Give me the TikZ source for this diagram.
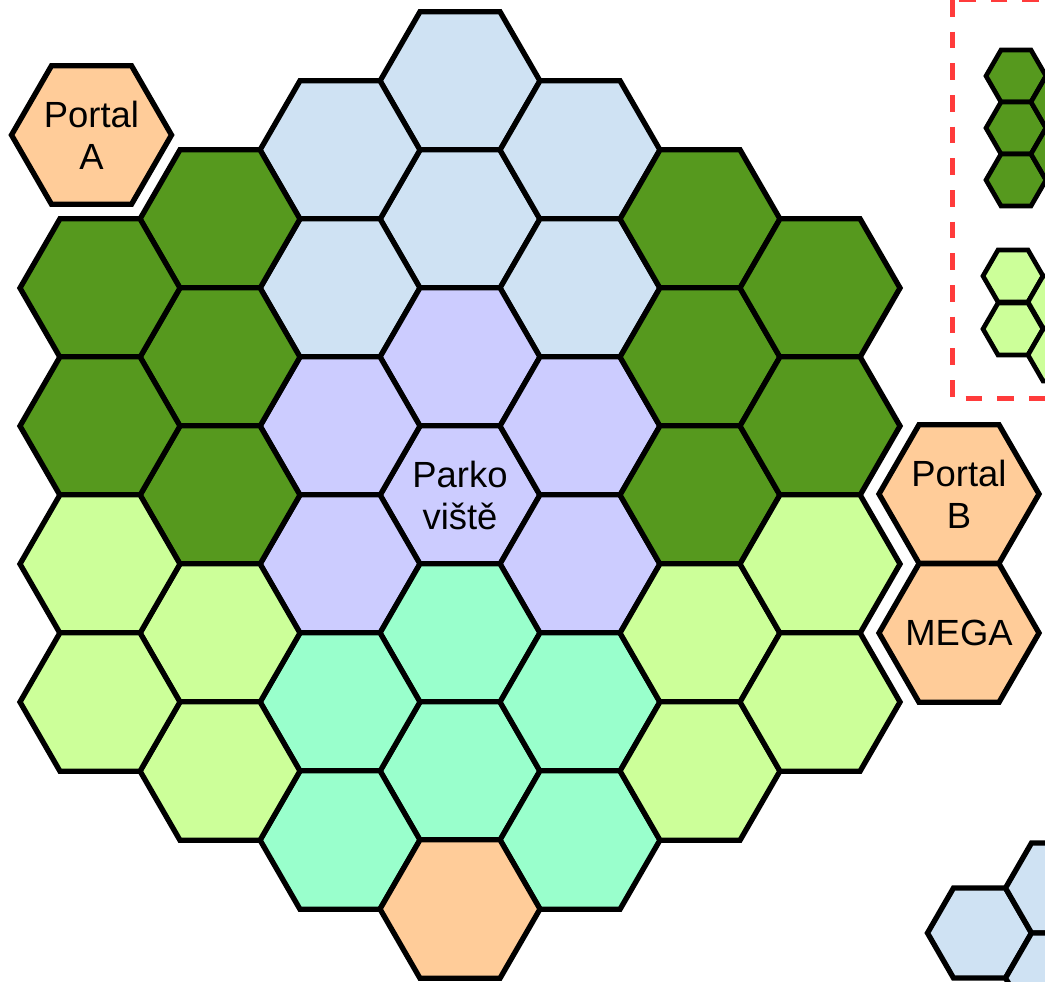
\documentclass[tikz,border=0pt]{standalone}
\usepackage{fontspec}
\setmainfont{Liberation Sans}
\usetikzlibrary{shapes.geometric}

\definecolor{skyblue}{HTML}{CFE2F3}
\definecolor{parklilac}{HTML}{CCCCFF}
\definecolor{mintgreen}{HTML}{99FFCC}
\definecolor{forestgreen}{HTML}{56991E}
\definecolor{fieldgreen}{HTML}{CCFF99}
\definecolor{portalpeach}{HTML}{FFCC99}
\definecolor{framered}{HTML}{FF3B3B}

\begin{document}
\begin{tikzpicture}[
    x=0.75pt, y=-0.75pt,
    every node/.style={draw, regular polygon, regular polygon sides=6, line width=4pt,
        minimum size=120pt, inner sep=0pt, align=center, font=\fontsize{27.3}{31.5}\selectfont},
    skyhex/.style={fill=skyblue},
    parkhex/.style={fill=parklilac},
    minthex/.style={fill=mintgreen},
    foresthex/.style={fill=forestgreen},
    fieldhex/.style={fill=fieldgreen},
    portalhex/.style={fill=portalpeach},
    keyhex/.style={minimum size=45pt, line width=3.5pt},
    cornerhex/.style={fill=skyblue, minimum size=78pt}
]
\useasboundingbox (0,0) rectangle (1045,981);
\clip (0,0) rectangle (1045,981);

% Nodes
\node[skyhex] (sky1) at (460,81) {};
\node[skyhex] (sky2) at (460,219) {};
\node[skyhex] (sky3) at (340,150) {};
\node[skyhex] (sky4) at (340,288) {};
\node[skyhex] (sky5) at (580,150) {};
\node[skyhex] (sky6) at (580,288) {};

\node[parkhex] (park1) at (460,357) {};
\node[parkhex] (park2) at (460,495) {Parko\\viště};
\node[parkhex] (park3) at (340,426) {};
\node[parkhex] (park4) at (340,564) {};
\node[parkhex] (park5) at (580,426) {};
\node[parkhex] (park6) at (580,564) {};

\node[minthex] (mint1) at (460,633) {};
\node[minthex] (mint2) at (460,771) {};
\node[minthex] (mint3) at (340,702) {};
\node[minthex] (mint4) at (340,840) {};
\node[minthex] (mint5) at (580,702) {};
\node[minthex] (mint6) at (580,840) {};
\node[portalhex] (gate) at (460,909) {};

\node[foresthex] (forest1) at (220,219) {};
\node[foresthex] (forest2) at (220,357) {};
\node[foresthex] (forest3) at (220,495) {};
\node[foresthex] (forest4) at (100,288) {};
\node[foresthex] (forest5) at (100,426) {};
\node[foresthex] (forest6) at (700,219) {};
\node[foresthex] (forest7) at (700,357) {};
\node[foresthex] (forest8) at (700,495) {};
\node[foresthex] (forest9) at (820,288) {};
\node[foresthex] (forest10) at (820,426) {};

\node[fieldhex] (field1) at (220,633) {};
\node[fieldhex] (field2) at (220,771) {};
\node[fieldhex] (field3) at (100,564) {};
\node[fieldhex] (field4) at (100,702) {};
\node[fieldhex] (field5) at (700,633) {};
\node[fieldhex] (field6) at (700,771) {};
\node[fieldhex] (field7) at (820,564) {};
\node[fieldhex] (field8) at (820,702) {};

\node[portalhex] (portalA) at (91.5,135) {Portal\\A};
\node[portalhex] (portalB) at (959,494) {Portal\\B};
\node[portalhex] (mega) at (959,633) {\makebox[0pt]{MEGA}};

% Legend
\draw[framered, line width=3.75pt, dash pattern=on 12.5pt off 11.25pt] (952,0) rectangle (1120,398);
\node[foresthex, keyhex] (keyforest1) at (1016,76) {};
\node[foresthex, keyhex] (keyforest2) at (1016,128) {};
\node[foresthex, keyhex] (keyforest3) at (1016,180) {};
\node[foresthex, keyhex] (keyforest4) at (1061,102) {};
\node[foresthex, keyhex] (keyforest5) at (1061,154) {};
\node[fieldhex, keyhex] (keyfield1) at (1013,276) {};
\node[fieldhex, keyhex] (keyfield2) at (1013,329) {};
\node[fieldhex, keyhex] (keyfield3) at (1058,302) {};
\node[fieldhex, keyhex] (keyfield4) at (1058,355) {};

% Corner
\node[cornerhex] (corner1) at (979.5,933) {};
\node[cornerhex] (corner2) at (1057.5,888) {};
\node[cornerhex] (corner3) at (1057.5,978) {};

\end{tikzpicture}
\end{document}
